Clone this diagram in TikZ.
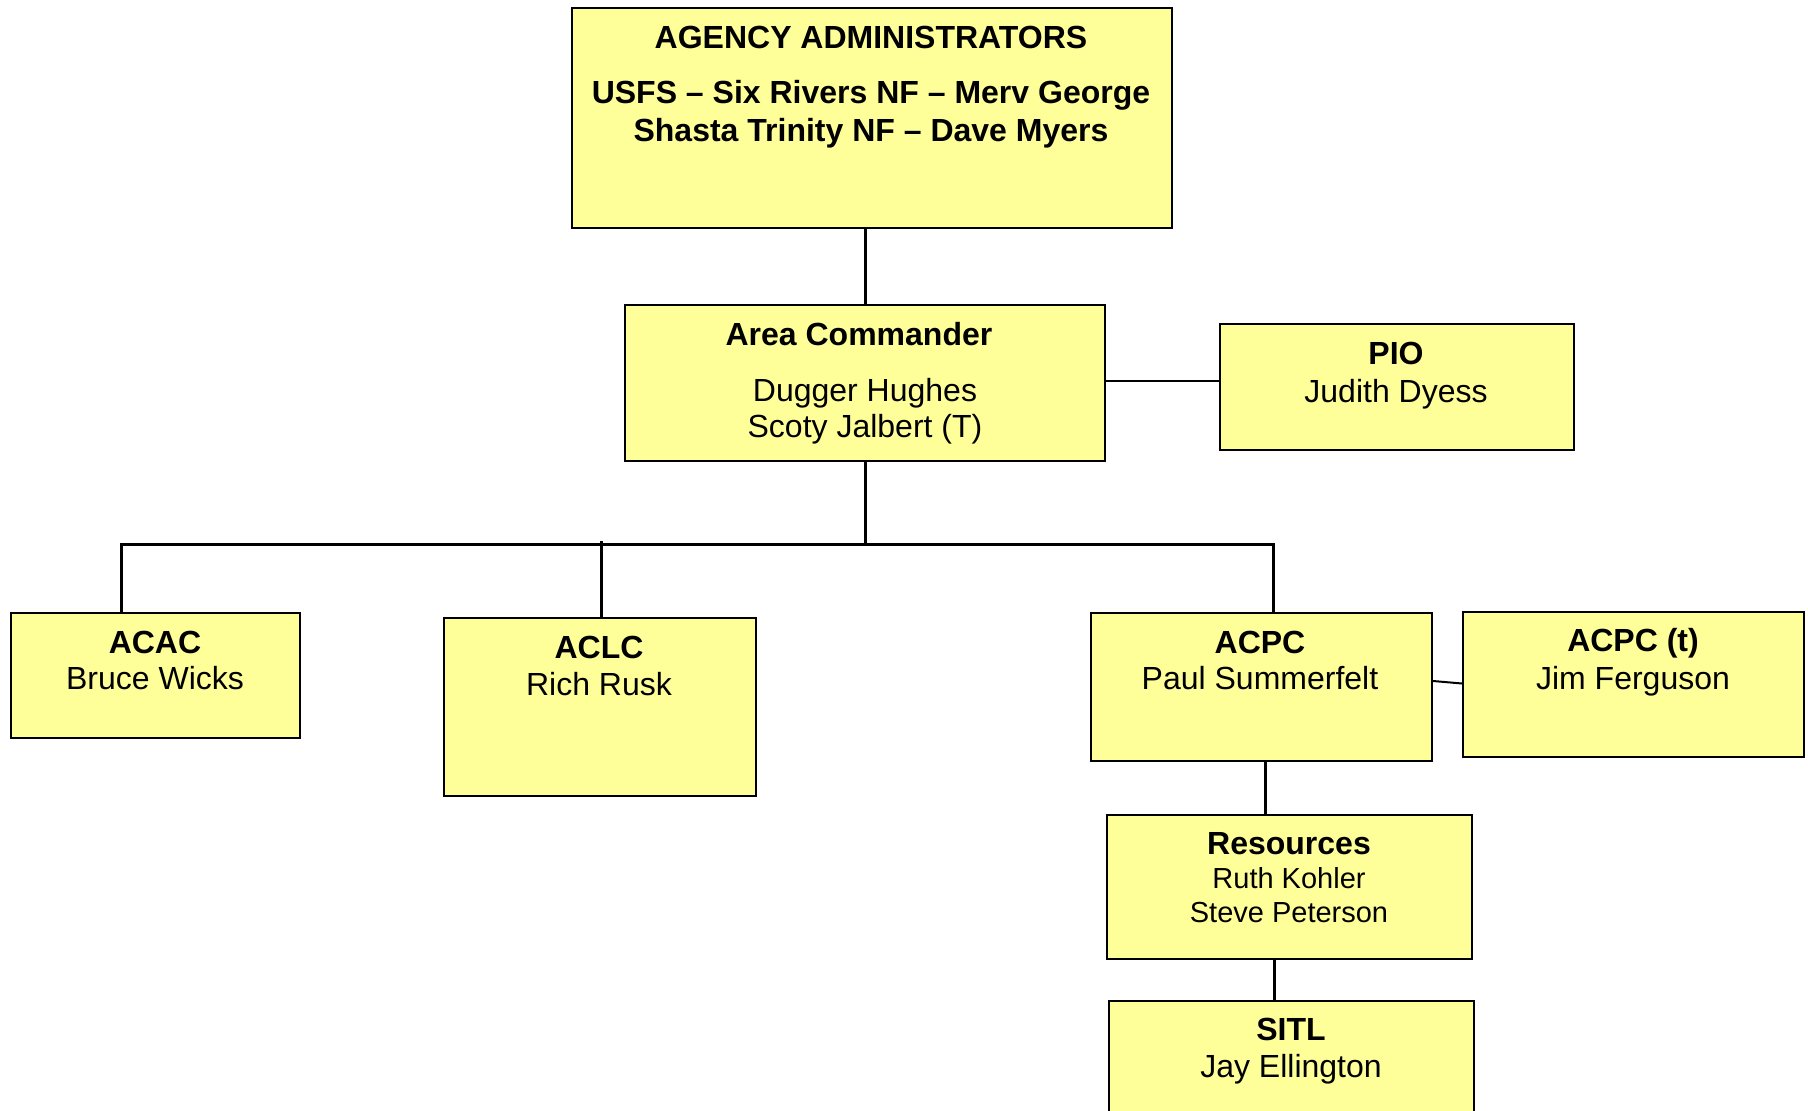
\documentclass[tikz,border=0pt]{standalone}
\usepackage{fontspec}
\setmainfont{Liberation Sans}
\definecolor{boxfill}{HTML}{FFFF99}
\begin{document}
\begin{tikzpicture}[x=1pt,y=-1pt,
  box/.style={draw=black, line width=2pt, fill=boxfill, inner sep=0pt, anchor=north west},
  ttl/.style={font=\fontsize{32}{36}\selectfont\bfseries, anchor=base, inner sep=0pt},
  nm/.style={font=\fontsize{32}{36}\selectfont, anchor=base, inner sep=0pt},
  nms/.style={font=\fontsize{29}{34}\selectfont, anchor=base, inner sep=0pt},
  conn/.style={line width=3pt, draw=black}]
\useasboundingbox[fill=white] (0,0) rectangle (1808,1111);
% boxes
\node[box, minimum width=600pt, minimum height=220pt] (agency) at (571,7) {};
\node[box, minimum width=480pt, minimum height=156pt] (ac) at (624,304) {};
\node[box, minimum width=354pt, minimum height=126pt] (pio) at (1219,323) {};
\node[box, minimum width=289pt, minimum height=125pt] (acac) at (10,612) {};
\node[box, minimum width=312pt, minimum height=178pt] (aclc) at (443,617) {};
\node[box, minimum width=341pt, minimum height=148pt] (acpc) at (1090,612) {};
\node[box, minimum width=341pt, minimum height=145pt] (acpct) at (1462,611) {};
\node[box, minimum width=365pt, minimum height=144pt] (res) at (1106,814) {};
\node[box, minimum width=365pt, minimum height=140pt] (sitl) at (1108,1000) {};
% texts
\node[ttl] (agency-a) at (871,48) {AGENCY ADMINISTRATORS};
\node[ttl] (agency-b) at (871,103.5) {USFS -- Six Rivers NF -- Merv George};
\node[ttl] (agency-c) at (871,141.5) {Shasta Trinity NF -- Dave Myers};
\node[ttl] (ac-a) at (859,345.5) {Area Commander};
\node[nm] (ac-b) at (865,401.5) {Dugger Hughes};
\node[nm] (ac-c) at (865,437) {Scoty Jalbert (T)};
\node[ttl] (pio-a) at (1396,364.5) {PIO};
\node[nm] (pio-b) at (1396,402.5) {Judith Dyess};
\node[ttl] (acac-a) at (155,653.5) {ACAC};
\node[nm] (acac-b) at (155,689.5) {Bruce Wicks};
\node[ttl] (aclc-a) at (599,658.5) {ACLC};
\node[nm] (aclc-b) at (599,695.5) {Rich Rusk};
\node[ttl] (acpc-a) at (1260,653.5) {ACPC};
\node[nm] (acpc-b) at (1260,689.5) {Paul Summerfelt};
\node[ttl] (acpct-a) at (1633,651.5) {ACPC (t)};
\node[nm] (acpct-b) at (1633,689.5) {Jim Ferguson};
\node[ttl] (res-a) at (1289,854.5) {Resources};
\node[nms] (res-b) at (1289,888) {Ruth Kohler};
\node[nms] (res-c) at (1289,922.5) {Steve Peterson};
\node[ttl] (sitl-a) at (1291,1040) {SITL};
\node[nm] (sitl-b) at (1291,1077) {Jay Ellington};
% connectors
\coordinate (busL) at (121,544);
\coordinate (busR) at (1273,544);
\coordinate (busC) at (601,541);
\draw[conn] (ac.north) -- (ac.north |- agency.south);
\draw[conn] (ac.south) -- (ac.south |- busL);
\draw[conn, line cap=rect] (busL) -- (busR);
\draw[conn] (busL) -- (busL |- acac.north);
\draw[conn] (busC) -- (busC |- aclc.north);
\draw[conn] (busR) -- (busR |- acpc.north);
\draw[line width=2pt] ([yshift=2pt]ac.east) -- ([yshift=2pt]ac.east -| pio.west);
\draw[line width=2pt] ([yshift=6pt]acpc.east) -- ([yshift=1pt]acpct.west);
\draw[conn] ([xshift=3.5pt]acpc.south) -- ([xshift=3.5pt]acpc.south |- res.north);
\draw[conn] ([xshift=-15.5pt]res.south) -- ([xshift=-15.5pt]res.south |- sitl.north);
\end{tikzpicture}
\end{document}
